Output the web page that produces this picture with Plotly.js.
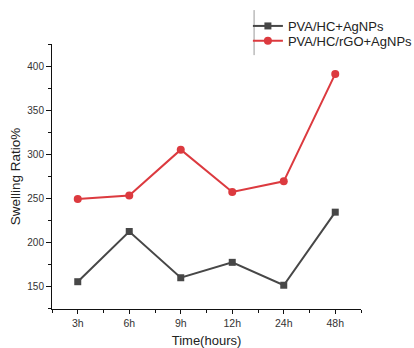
<!DOCTYPE html>
<html>
<head>
<meta charset="utf-8">
<script src="https://cdn.plot.ly/plotly-3.0.1.min.js"></script>
<style>html,body{margin:0;padding:0;background:#fff;}#chart{width:414px;height:348px;}</style>
</head>
<body>
<div id="chart"></div>
<script>
const categories = ["3h", "6h", "9h", "12h", "24h", "48h"];
const seriesNames = ["PVA/HC+AgNPs", "PVA/HC/rGO+AgNPs"];
const valuesHC = [155, 212, 159.5, 177, 151, 234];
const valuesRGO = [249, 253, 305, 257, 269, 391];
const yTicks = [150, 200, 250, 300, 350, 400];

const xIdx = categories.map((_, i) => i);

const traces = [
  {
    x: xIdx, y: valuesHC, name: seriesNames[0], type: "scatter", mode: "lines+markers",
    legend: "legend",
    line: {color: "#474747", width: 2},
    marker: {symbol: "square", size: 7, color: "#474747"}
  },
  {
    x: xIdx, y: valuesRGO, name: seriesNames[1], type: "scatter", mode: "lines+markers",
    legend: "legend2",
    line: {color: "#dc3a3f", width: 2},
    marker: {symbol: "circle", size: 8, color: "#dc3a3f"}
  }
];

const legendCommon = {
  xanchor: "left", yanchor: "middle",
  font: {size: 13, color: "#222"}, bgcolor: "rgba(0,0,0,0)"
};

const layout = {
  width: 414, height: 348,
  margin: {l: 52, r: 53, t: 44, b: 39, autoexpand: false},
  paper_bgcolor: "#fff", plot_bgcolor: "#fff",
  font: {family: "Liberation Sans, Arial, sans-serif", color: "#222"},
  showlegend: true,
  legend: Object.assign({x: 0.634, y: 1.068}, legendCommon),
  legend2: Object.assign({x: 0.634, y: 1.0125}, legendCommon),
  xaxis: {
    range: [-0.5, 5.5], tickmode: "array", tickvals: xIdx, ticktext: categories,
    showgrid: false, zeroline: false, showline: true, linecolor: "#111", linewidth: 1,
    ticks: "outside", ticklen: 4, tickcolor: "#111",
    tickfont: {size: 10.5, color: "#333"},
    minor: {tickmode: "linear", tick0: -0.5, dtick: 1, ticks: "outside", ticklen: 3, tickcolor: "#111", showgrid: false},
    title: {text: "Time(hours)", font: {size: 13, color: "#222"}, standoff: 8}
  },
  yaxis: {
    range: [124, 425], tickmode: "array", tickvals: yTicks,
    showgrid: false, zeroline: false, showline: true, linecolor: "#111", linewidth: 1,
    ticks: "outside", ticklen: 5, tickcolor: "#111",
    tickfont: {size: 10, color: "#333"},
    minor: {tickmode: "linear", tick0: 125, dtick: 50, ticks: "outside", ticklen: 3, tickcolor: "#111", showgrid: false},
    title: {text: "Swelling Ratio%", font: {size: 13.5, color: "#222"}, standoff: 3}
  },
  shapes: [
    {type: "line", xref: "paper", yref: "paper", x0: 0.654, x1: 0.654, y0: 0.958, y1: 1.128,
     line: {color: "#999", width: 1}}
  ]
};

Plotly.newPlot("chart", traces, layout, {displayModeBar: false, staticPlot: true});
</script>
</body>
</html>
